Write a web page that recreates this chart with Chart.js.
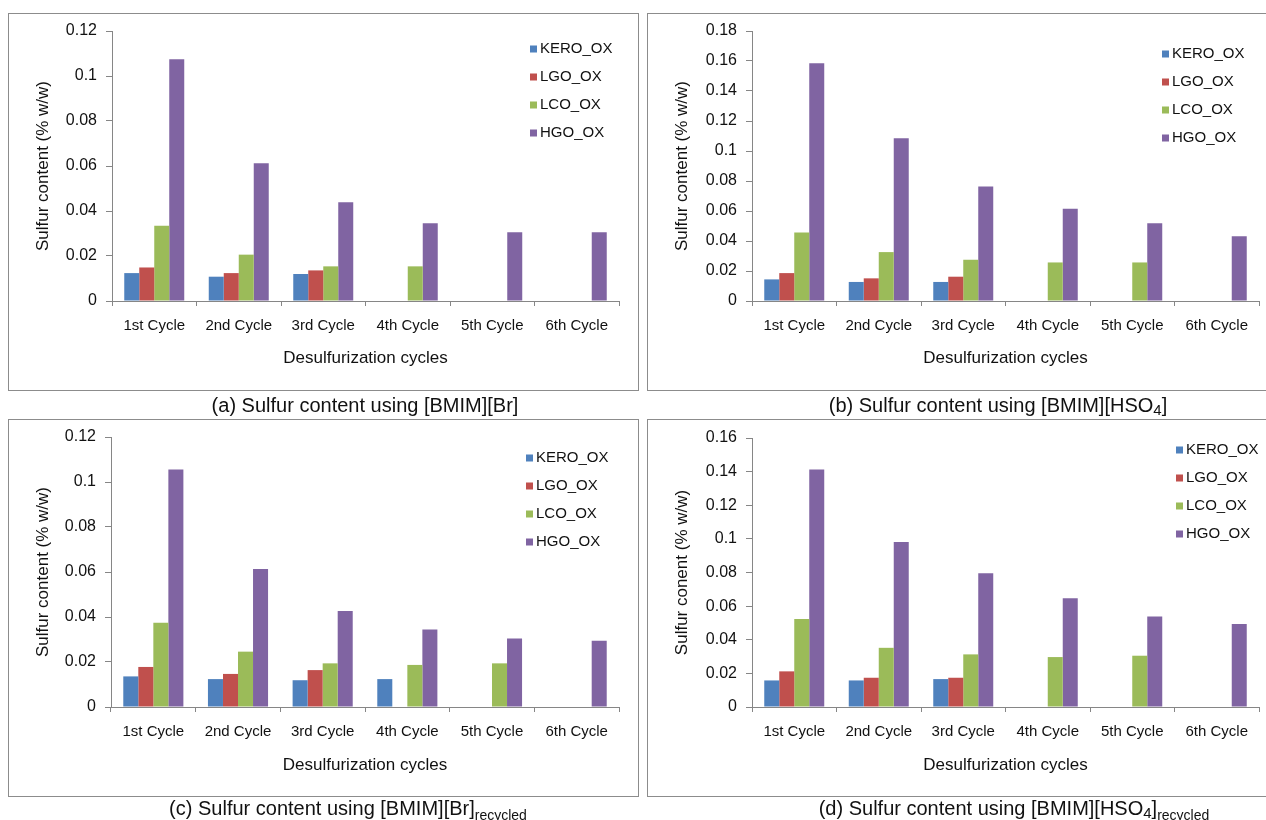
<!DOCTYPE html>
<html>
<head>
<meta charset="utf-8">
<script src="https://cdn.jsdelivr.net/npm/chart.js@4.4.1/dist/chart.umd.min.js"></script>
<style>
  html, body { margin: 0; padding: 0; background: #fff; }
  body { width: 1266px; height: 820px; position: relative; overflow: hidden;
         font-family: "Liberation Sans", Arial, sans-serif; color: #111; }
  .box { position: absolute; border: 1px solid #8c8c8c; box-sizing: border-box; }
  .cv { position: absolute; }
  .cap { position: absolute; font-size: 20px; white-space: nowrap; line-height: 1;
         transform: translate(-50%, -50%); }
  .cap .s4 { font-size: 15px; position: relative; top: 3px; }
  .cap .rec { font-size: 14px; position: relative; top: 5px; }
</style>
</head>
<body>
  <div class="box" style="left:8px;top:13px;width:631px;height:378px"></div>
  <div class="box" style="left:647px;top:13px;width:640px;height:378px"></div>
  <div class="box" style="left:8px;top:419px;width:631px;height:378px"></div>
  <div class="box" style="left:647px;top:419px;width:640px;height:378px"></div>

  <canvas id="chartA" class="cv" width="643" height="415" style="left:0;top:0"></canvas>
  <canvas id="chartB" class="cv" width="623" height="415" style="left:643px;top:0"></canvas>
  <canvas id="chartC" class="cv" width="643" height="405" style="left:0;top:415px"></canvas>
  <canvas id="chartD" class="cv" width="623" height="405" style="left:643px;top:415px"></canvas>

  <div class="cap" style="left:365px;top:405px">(a) Sulfur content using [BMIM][Br]</div>
  <div class="cap" style="left:998px;top:405px">(b) Sulfur content using [BMIM][HSO<span class="s4">4</span>]</div>
  <div class="cap" style="left:348px;top:808px">(c) Sulfur content using [BMIM][Br]<span class="rec">recycled</span></div>
  <div class="cap" style="left:1014px;top:808px">(d) Sulfur content using [BMIM][HSO<span class="s4">4</span>]<span class="rec">recycled</span></div>

<script>
// Categories and series
const cycles = ['1st Cycle', '2nd Cycle', '3rd Cycle', '4th Cycle', '5th Cycle', '6th Cycle'];
const seriesNames = ['KERO_OX', 'LGO_OX', 'LCO_OX', 'HGO_OX'];
const seriesColors = ['#4F81BD', '#C0504D', '#9BBB59', '#8064A2'];

// (a) [BMIM][Br]
const brKero = [0.0124, 0.0108, 0.0120, null, null, null];
const brLgo  = [0.0149, 0.0124, 0.0136, null, null, null];
const brLco  = [0.0334, 0.0206, 0.0154, 0.0154, null, null];
const brHgo  = [0.1074, 0.0612, 0.0439, 0.0346, 0.0306, 0.0306];

// (b) [BMIM][HSO4]
const hsKero = [0.0144, 0.0127, 0.0127, null, null, null];
const hsLgo  = [0.0186, 0.0151, 0.0162, null, null, null];
const hsLco  = [0.0457, 0.0326, 0.0275, 0.0257, 0.0257, null];
const hsHgo  = [0.1585, 0.1085, 0.0764, 0.0615, 0.0519, 0.0431];

// (c) [BMIM][Br] recycled
const brRecKero = [0.0136, 0.0124, 0.0119, 0.0124, null, null];
const brRecLgo  = [0.0178, 0.0147, 0.0164, null, null, null];
const brRecLco  = [0.0375, 0.0246, 0.0194, 0.0187, 0.0194, null];
const brRecHgo  = [0.1056, 0.0613, 0.0427, 0.0345, 0.0305, 0.0295];

// (d) [BMIM][HSO4] recycled
const hsRecKero = [0.0158, 0.0158, 0.0166, null, null, null];
const hsRecLgo  = [0.0212, 0.0174, 0.0174, null, null, null];
const hsRecLco  = [0.0523, 0.0352, 0.0313, 0.0297, 0.0305, null];
const hsRecHgo  = [0.1412, 0.0982, 0.0796, 0.0647, 0.0539, 0.0493];

// Y-axis tick values
const ticksBr      = [0, 0.02, 0.04, 0.06, 0.08, 0.1, 0.12];
const ticksHso4    = [0, 0.02, 0.04, 0.06, 0.08, 0.1, 0.12, 0.14, 0.16, 0.18];
const ticksBrRec   = [0, 0.02, 0.04, 0.06, 0.08, 0.1, 0.12];
const ticksHso4Rec = [0, 0.02, 0.04, 0.06, 0.08, 0.1, 0.12, 0.14, 0.16];

const FONT = '"Liberation Sans", Arial, sans-serif';
const TEXT = '#111';
const AXIS = '#868686';

// Vertical legend drawn inside the plot area, to the upper right
const innerLegend = {
  id: 'innerLegend',
  afterDraw(chart, args, opts) {
    const ctx = chart.ctx;
    ctx.save();
    ctx.font = '15px ' + FONT;
    ctx.textBaseline = 'middle';
    ctx.textAlign = 'left';
    chart.data.datasets.forEach((ds, i) => {
      const cy = opts.y + i * 28;
      ctx.fillStyle = ds.backgroundColor;
      ctx.fillRect(opts.x, cy - 3.5, 7, 7);
      ctx.fillStyle = TEXT;
      ctx.fillText(ds.label, opts.x + 10, cy);
    });
    ctx.restore();
  }
};

function buildChart(id, series, ticks, yTitle, geo) {
  return new Chart(document.getElementById(id), {
    type: 'bar',
    data: {
      labels: cycles,
      datasets: series.map((vals, i) => ({
        label: seriesNames[i],
        data: vals,
        backgroundColor: seriesColors[i],
        borderWidth: 0,
        categoryPercentage: 0.71,
        barPercentage: 1
      }))
    },
    options: {
      responsive: false,
      animation: false,
      events: [],
      layout: { padding: { left: geo.padL, right: geo.padR, top: geo.padT, bottom: geo.padB } },
      plugins: {
        legend: { display: false },
        tooltip: { enabled: false },
        innerLegend: { x: geo.legX, y: geo.legY }
      },
      scales: {
        x: {
          grid: { display: true, drawOnChartArea: false, drawTicks: true, tickLength: 5, color: AXIS, offset: true },
          border: { display: true, color: AXIS },
          ticks: { color: TEXT, font: { family: FONT, size: 15 }, padding: 11, maxRotation: 0, autoSkip: false },
          title: { display: true, text: 'Desulfurization cycles', color: TEXT, font: { family: FONT, size: 17 }, padding: 0 },
          afterFit(s) { s.height = geo.xH; }
        },
        y: {
          min: 0,
          max: ticks[ticks.length - 1],
          afterBuildTicks(s) { s.ticks = ticks.map(v => ({ value: v })); },
          grid: { display: true, drawOnChartArea: false, drawTicks: true, tickLength: 6, color: AXIS },
          border: { display: true, color: AXIS },
          ticks: { color: TEXT, font: { family: FONT, size: 16 }, padding: 9,
                   callback: v => String(+Number(v).toFixed(2)) },
          title: { display: true, text: yTitle, color: TEXT, font: { family: FONT, size: 17 }, padding: 0 },
          afterFit(s) { s.width = geo.yW; }
        }
      }
    },
    plugins: [innerLegend]
  });
}

buildChart('chartA', [brKero, brLgo, brLco, brHgo], ticksBr, 'Sulfur content (% w/w)',
  { padL: 33, yW: 79, padR: 24, padT: 31, xH: 68, padB: 46, legX: 530, legY: 49 });
buildChart('chartB', [hsKero, hsLgo, hsLco, hsHgo], ticksHso4, 'Sulfur content (% w/w)',
  { padL: 29, yW: 80, padR: 7, padT: 31, xH: 68, padB: 46, legX: 519, legY: 54 });
buildChart('chartC', [brRecKero, brRecLgo, brRecLco, brRecHgo], ticksBrRec, 'Sulfur content (% w/w)',
  { padL: 33, yW: 78, padR: 24, padT: 22, xH: 69, padB: 44, legX: 526, legY: 43 });
buildChart('chartD', [hsRecKero, hsRecLgo, hsRecLco, hsRecHgo], ticksHso4Rec, 'Sulfur conent (% w/w)',
  { padL: 29, yW: 80, padR: 7, padT: 23, xH: 69, padB: 44, legX: 533, legY: 35 });
</script>
</body>
</html>
